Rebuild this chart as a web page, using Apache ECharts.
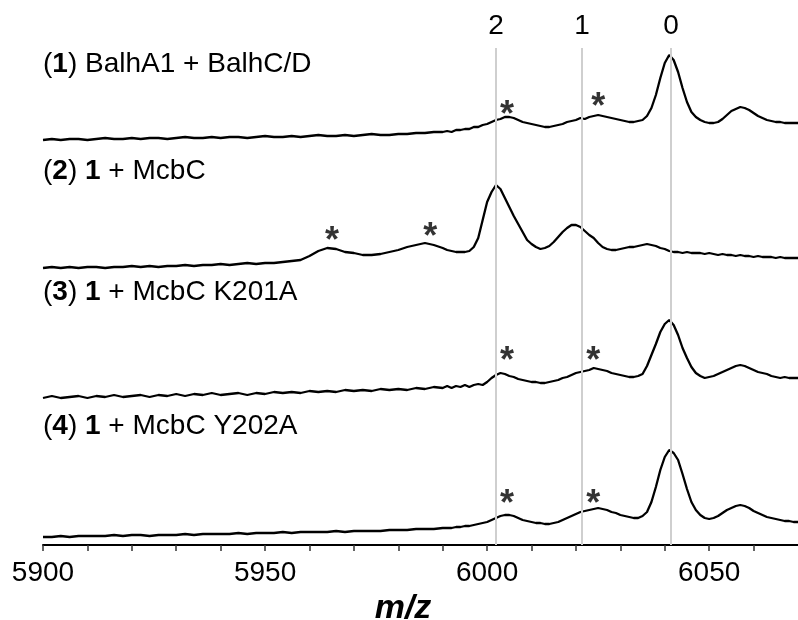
<!DOCTYPE html>
<html>
<head>
<meta charset="utf-8">
<title>MALDI spectra</title>
<script src="https://cdn.jsdelivr.net/npm/echarts@6/dist/echarts.min.js"></script>
<style>
html,body{margin:0;padding:0;background:#fff;}
#chart{width:798px;height:620px;}
</style>
</head>
<body>
<div id="chart"></div>
<script>
// m/z grid (step 2 on the flat left part, step 1 where the peaks are)
var mz = [
  5900,5902,5904,5906,5908,5910,5912,5914,5916,5918,
  5920,5922,5924,5926,5928,5930,5932,5934,5936,5938,
  5940,5942,5944,5946,5948,5950,5952,5954,5956,5958,
  5960,5962,5964,5966,5968,5970,5972,5974,5976,5978,
  5980,5982,5984,5986,5988,
  5990,5991,5992,5993,5994,5995,5996,5997,5998,5999,
  6000,6001,6002,6003,6004,6005,6006,6007,6008,6009,
  6010,6011,6012,6013,6014,6015,6016,6017,6018,6019,
  6020,6021,6022,6023,6024,6025,6026,6027,6028,6029,
  6030,6031,6032,6033,6034,6035,6036,6037,6038,6039,
  6040,6041,6042,6043,6044,6045,6046,6047,6048,6049,
  6050,6051,6052,6053,6054,6055,6056,6057,6058,6059,
  6060,6061,6062,6063,6064,6065,6066,6067,6068,6069,
  6070
];

// intensities (a.u.)
var spec1 = [
  0,1,0,1,1,0,1,2,1,1, 2,1,2,2,1,2,3,2,2,3, 2,3,3,2,3,4,3,3,4,3, 4,5,4,4,5,4,5,6,5,5, 6,6,7,7,8,
  8,9,8,10,10,11,11,13,13,15,
  16,18,20,21,23,23,22,20,18,17,
  16,15,14,13,13,14,15,16,18,19,
  20,22,21,23,24,25,24,23,22,21,
  20,19,18,18,19,20,24,32,45,62,
  77,85,80,68,52,38,28,23,20,18,
  17,17,18,21,25,29,31,33,32,30,
  27,24,22,20,19,18,18,17,17,17,
  17
];
var spec2 = [
  0,1,0,1,0,1,1,0,1,1, 2,1,2,1,2,2,3,2,3,3, 4,3,4,5,4,5,5,6,7,8, 12,17,20,19,16,15,13,13,14,16, 18,21,23,25,23,
  20,18,17,16,16,16,17,21,30,48,
  66,76,83,79,70,61,52,44,36,28,
  24,21,19,20,22,26,31,36,40,43,
  43,41,37,33,30,25,21,19,18,18,
  19,20,21,21,22,23,24,23,22,20,
  19,17,16,16,15,16,15,15,15,14,
  15,14,13,14,13,13,12,13,12,12,
  11,12,11,11,11,10,11,10,10,10,
  10
];
var spec3 = [
  0,2,0,1,2,0,2,1,3,1, 2,3,1,3,2,4,2,4,3,5, 3,4,5,3,5,4,6,5,6,5, 7,6,7,6,8,7,8,7,9,8, 9,8,10,9,11,
  10,12,10,12,11,13,11,13,14,13,
  16,20,23,25,24,22,21,19,18,17,
  16,16,15,15,16,17,18,20,21,23,
  25,26,27,28,30,29,28,27,25,24,
  23,22,21,21,22,24,32,43,54,66,
  74,78,73,63,50,40,31,25,22,20,
  21,22,24,26,28,30,32,33,32,30,
  28,26,25,24,22,21,20,21,20,20,
  20
];
var spec4 = [
  0,0,1,0,1,1,1,1,2,1, 2,2,1,2,2,2,3,2,3,3, 3,3,4,3,4,4,4,5,4,5, 5,5,5,6,5,6,6,6,6,7, 7,7,8,8,8,
  9,9,9,10,10,11,11,12,13,14,
  15,17,19,21,22,22,21,19,17,16,
  15,14,14,13,13,14,15,17,19,21,
  23,25,26,27,28,29,28,27,25,24,
  22,21,20,19,19,21,25,35,50,67,
  80,87,84,77,63,48,35,27,22,19,
  18,19,21,24,27,29,31,32,31,29,
  26,24,22,20,19,18,17,16,16,15,
  15
];

var sampleNames = [
  '({b|1}) BalhA1 + BalhC/D',
  '({b|2}) {b|1} + McbC',
  '({b|3}) {b|1} + McbC K201A',
  '({b|4}) {b|1} + McbC Y202A'
];

// asterisks: m/z and height above each trace's baseline
var starMz = [[6004.5, 6025], [5965.1, 5987.2], [6004.5, 6023.9], [6004.5, 6023.9]];
var starH  = [[34, 42], [36, 40], [46, 46], [42, 42]];

// reference lines (number of losses)
var refMz = [6002, 6021.4, 6041.4];
var refLabels = ['2', '1', '0'];

var tickLabels = [5900, 5950, 6000, 6050];

// stacking of the four traces
var offsets = [405, 277, 147, 8];
var titleTops = [50, 157, 278, 412];

var FONT = 'Liberation Sans';
var specs = [spec1, spec2, spec3, spec4];

var series = [];
series.push({
  type: 'line',
  data: [],
  silent: true,
  z: 1,
  markLine: {
    silent: true,
    symbol: 'none',
    lineStyle: { color: '#cfcfcf', width: 2, type: 'solid' },
    label: {
      show: true, position: 'end', distance: 8, formatter: '{b}',
      fontSize: 28, fontFamily: FONT, color: '#000'
    },
    data: refMz.map(function (v, i) { return { xAxis: v, name: refLabels[i] }; })
  }
});
specs.forEach(function (s, k) {
  series.push({
    type: 'line',
    data: mz.map(function (x, i) { return [x, offsets[k] + s[i]]; }),
    showSymbol: false,
    silent: true,
    z: 3,
    lineStyle: { color: '#000', width: 2.3 }
  });
});
var stars = [];
starMz.forEach(function (arr, k) {
  arr.forEach(function (x, j) { stars.push([x, offsets[k] + starH[k][j]]); });
});
series.push({
  type: 'scatter',
  data: stars,
  symbolSize: 0,
  silent: true,
  z: 4,
  label: {
    show: true, position: 'inside', offset: [0, 10], formatter: '*',
    fontSize: 36, fontWeight: 'bold', fontFamily: FONT, color: '#000'
  }
});

var titles = sampleNames.map(function (t, k) {
  return {
    text: t, left: 43, top: titleTops[k], padding: 0,
    textStyle: {
      fontSize: 28, fontWeight: 'normal', fontFamily: FONT, color: '#000',
      rich: { b: { fontSize: 28, fontWeight: 'bold', fontFamily: FONT, color: '#000' } }
    }
  };
});

var chart = echarts.init(document.getElementById('chart'), null, { renderer: 'canvas' });
chart.setOption({
  animation: false,
  backgroundColor: '#fff',
  title: titles,
  grid: { left: 43, right: 0, top: 48, bottom: 75, containLabel: false, outerBoundsMode: 'none' },
  xAxis: {
    type: 'value', min: 5900, max: 6070, interval: 10,
    name: 'm/z', nameLocation: 'middle', nameGap: 30,
    nameTextStyle: {
      fontSize: 34, fontWeight: 'bold', fontStyle: 'italic', fontFamily: FONT,
      color: '#000', padding: [0, 35, 0, 0]
    },
    axisLine: { lineStyle: { color: '#000', width: 2 } },
    axisTick: { length: 6, lineStyle: { color: '#333', width: 1.5 } },
    axisLabel: {
      margin: 14, fontSize: 28, fontFamily: FONT, color: '#000',
      showMaxLabel: false,
      formatter: function (v) { return tickLabels.indexOf(v) >= 0 ? String(v) : ''; }
    },
    splitLine: { show: false }
  },
  yAxis: { type: 'value', min: 0, max: 497, show: false },
  series: series
});
</script>
</body>
</html>
